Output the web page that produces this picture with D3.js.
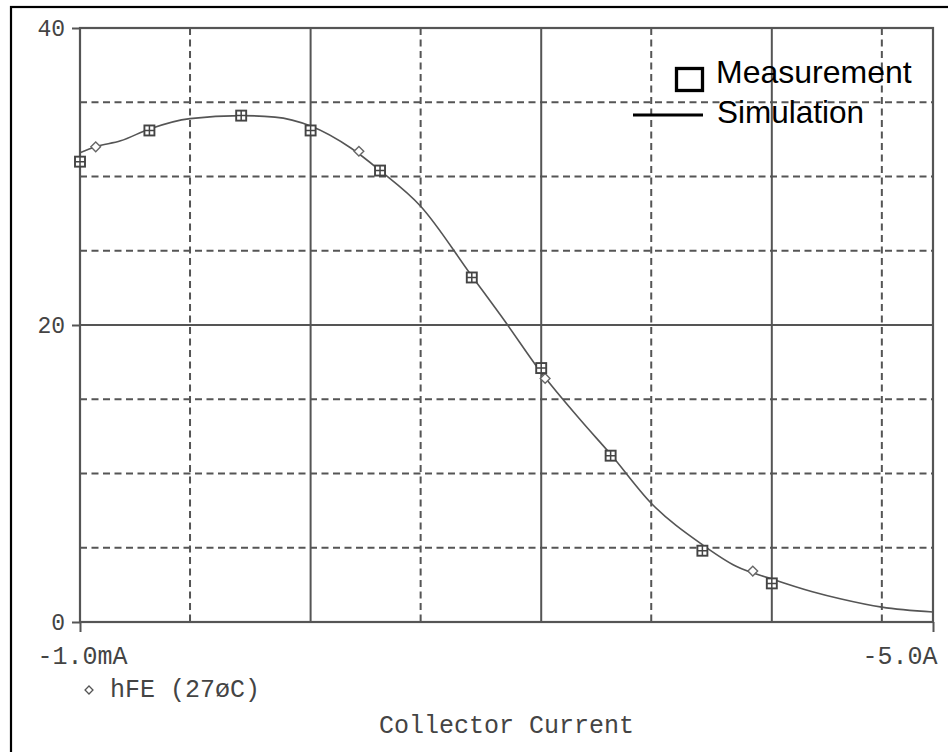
<!DOCTYPE html>
<html>
<head>
<meta charset="utf-8">
<script src="https://cdn.jsdelivr.net/npm/d3@7"></script>
<style>
  body { margin: 0; background: #fff; }
  .mono { font-family: "Liberation Mono", "DejaVu Sans Mono", monospace; fill: #444; }
  .legend { font-family: "Liberation Sans", Arial, sans-serif; fill: #000; }
</style>
</head>
<body>
<div id="chart"></div>
<script>
// measured hFE vs |collector current| (A)
const measCurrent = [0.001, 0.002, 0.005, 0.01, 0.02, 0.05, 0.1, 0.2, 0.5, 1];
const measHfe = [31.0, 33.1, 34.1, 33.1, 30.4, 23.2, 17.1, 11.2, 4.8, 2.6];

// simulated trace
const simCurrent = [0.001, 0.00117, 0.0015, 0.002, 0.003, 0.005, 0.007, 0.01, 0.015, 0.02,
  0.03, 0.05, 0.07, 0.1, 0.15, 0.2, 0.3, 0.5, 0.7, 1, 1.5, 2, 3, 5];
const simHfe = [31.6, 32.0, 32.4, 33.2, 33.9, 34.1, 34.0, 33.4, 31.9, 30.4,
  28.0, 23.3, 20.2, 16.8, 13.5, 11.3, 8.0, 5.2, 3.75, 2.9, 2.04, 1.55, 1.0, 0.67];

// trace markers (diamonds) placed along the simulated trace
const markCurrent = [0.00117, 0.0162, 0.104, 0.827];
const markHfe = [32.0, 31.7, 16.4, 3.43];

// axis ticks and grid
const yTicks = [0, 20, 40];
const yGridSolid = [20];
const yGridDash = [5, 10, 15, 25, 30, 35];
const xTicks = [0.001, 5];
const xTickLabels = ['-1.0mA', '-5.0A'];
const xGridSolid = [0.01, 0.1, 1];
const xGridDash = [0.003, 0.03, 0.3, 3];

const width = 948, height = 752;
const plotLeft = 80, plotRight = 933, plotTop = 28, plotBottom = 622;
const grey = '#555';

const svg = d3.select('#chart').append('svg')
  .attr('width', width)
  .attr('height', height);

// outer frame (runs off the right/bottom edge)
svg.append('rect')
  .attr('x', 11).attr('y', 7)
  .attr('width', 960).attr('height', 780)
  .attr('fill', 'none')
  .attr('stroke', '#000')
  .attr('stroke-width', 2.2);

const x = d3.scaleLog().domain([0.001, 5]).range([plotLeft, plotRight]);
const y = d3.scaleLinear().domain([0, 40]).range([plotBottom, plotTop]);

const grid = svg.append('g');

// vertical grid
grid.selectAll('.vs').data(xGridSolid).enter().append('line')
  .attr('x1', d => x(d)).attr('x2', d => x(d))
  .attr('y1', plotTop).attr('y2', plotBottom)
  .attr('stroke', grey).attr('stroke-width', 2);
grid.selectAll('.vd').data(xGridDash).enter().append('line')
  .attr('x1', d => x(d)).attr('x2', d => x(d))
  .attr('y1', plotTop).attr('y2', plotBottom)
  .attr('stroke', grey).attr('stroke-width', 2)
  .attr('stroke-dasharray', '7,4.5');

// horizontal grid
grid.selectAll('.hs').data(yGridSolid).enter().append('line')
  .attr('x1', plotLeft).attr('x2', plotRight)
  .attr('y1', d => y(d)).attr('y2', d => y(d))
  .attr('stroke', grey).attr('stroke-width', 2);
grid.selectAll('.hd').data(yGridDash).enter().append('line')
  .attr('x1', plotLeft).attr('x2', plotRight)
  .attr('y1', d => y(d)).attr('y2', d => y(d))
  .attr('stroke', grey).attr('stroke-width', 2)
  .attr('stroke-dasharray', '7,4.5');

// plot frame
svg.append('rect')
  .attr('x', plotLeft).attr('y', plotTop)
  .attr('width', plotRight - plotLeft).attr('height', plotBottom - plotTop)
  .attr('fill', 'none')
  .attr('stroke', grey).attr('stroke-width', 2.2);

// y axis
const yAxis = svg.append('g')
  .attr('transform', 'translate(' + plotLeft + ',0)')
  .call(d3.axisLeft(y).tickValues(yTicks).tickSize(8).tickPadding(7));
yAxis.select('.domain').remove();
yAxis.selectAll('line').attr('stroke', grey).attr('stroke-width', 2);
yAxis.selectAll('text')
  .attr('class', 'mono')
  .attr('font-size', 23)
  .attr('fill', '#444');

// x axis
const xAxis = svg.append('g')
  .attr('transform', 'translate(0,' + plotBottom + ')')
  .call(d3.axisBottom(x).tickValues(xTicks)
    .tickFormat((d, i) => xTickLabels[i])
    .tickSize(10).tickPadding(14));
xAxis.select('.domain').remove();
xAxis.selectAll('line').attr('stroke', grey).attr('stroke-width', 2);
xAxis.selectAll('text')
  .attr('class', 'mono')
  .attr('font-size', 25)
  .attr('fill', '#444');
xAxis.selectAll('.tick').filter((d, i) => i === 0).select('text').attr('dx', 2);
xAxis.selectAll('.tick').filter((d, i) => i === xTicks.length - 1).select('text')
  .attr('text-anchor', 'end').attr('dx', 4);

// simulated trace
const simData = simCurrent.map((c, i) => ({ c: c, v: simHfe[i] }));
const line = d3.line()
  .x(d => x(d.c))
  .y(d => y(d.v))
  .curve(d3.curveMonotoneX);
svg.append('path')
  .datum(simData)
  .attr('d', line)
  .attr('fill', 'none')
  .attr('stroke', grey)
  .attr('stroke-width', 1.6);

// trace diamonds
const diamond = d3.symbol().type(d3.symbolDiamond2).size(60);
svg.selectAll('.mark')
  .data(markCurrent.map((c, i) => ({ c: c, v: markHfe[i] })))
  .enter().append('path')
  .attr('d', diamond)
  .attr('transform', d => 'translate(' + x(d.c) + ',' + y(d.v) + ')')
  .attr('fill', '#fff')
  .attr('stroke', '#666')
  .attr('stroke-width', 1.4);

// measured points: boxed crosses
const meas = svg.selectAll('.meas')
  .data(measCurrent.map((c, i) => ({ c: c, v: measHfe[i] })))
  .enter().append('g')
  .attr('transform', d => 'translate(' + x(d.c) + ',' + y(d.v) + ')');
meas.append('rect')
  .attr('x', -5).attr('y', -5)
  .attr('width', 10).attr('height', 10)
  .attr('fill', '#fff')
  .attr('stroke', '#444').attr('stroke-width', 1.9);
meas.append('path')
  .attr('d', 'M-5,0H5M0,-5V5')
  .attr('stroke', '#444').attr('stroke-width', 1.5);

// trace legend under the axis
svg.append('path')
  .attr('d', d3.symbol().type(d3.symbolDiamond2).size(40))
  .attr('transform', 'translate(89,690)')
  .attr('fill', '#fff')
  .attr('stroke', '#555')
  .attr('stroke-width', 1.3);
svg.append('text')
  .attr('class', 'mono')
  .attr('x', 110).attr('y', 697)
  .attr('font-size', 25)
  .text('hFE (27øC)');

svg.append('text')
  .attr('class', 'mono')
  .attr('x', (plotLeft + plotRight) / 2).attr('y', 733)
  .attr('text-anchor', 'middle')
  .attr('font-size', 25)
  .text('Collector Current');

// legend box
svg.append('rect')
  .attr('x', 676.5).attr('y', 68.5)
  .attr('width', 26).attr('height', 22)
  .attr('fill', 'none')
  .attr('stroke', '#000').attr('stroke-width', 3.3);
svg.append('line')
  .attr('x1', 633).attr('x2', 703)
  .attr('y1', 115).attr('y2', 115)
  .attr('stroke', '#000').attr('stroke-width', 3);
svg.append('text')
  .attr('class', 'legend')
  .attr('x', 716).attr('y', 83)
  .attr('font-size', 32)
  .text('Measurement');
svg.append('text')
  .attr('class', 'legend')
  .attr('x', 717).attr('y', 123)
  .attr('font-size', 31.5)
  .text('Simulation');
</script>
</body>
</html>
